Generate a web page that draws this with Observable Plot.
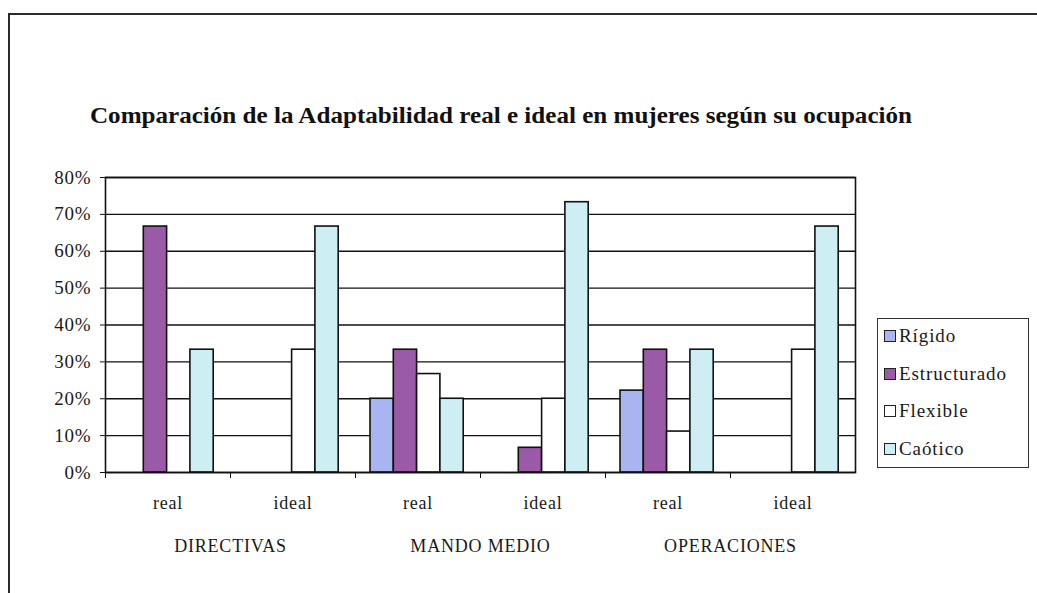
<!DOCTYPE html>
<html>
<head>
<meta charset="utf-8">
<script src="https://cdn.jsdelivr.net/npm/d3@7"></script>
<script src="https://cdn.jsdelivr.net/npm/@observablehq/plot@0.6"></script>
<style>
  html, body { margin: 0; padding: 0; background: #fff; }
  #page { position: relative; width: 1037px; height: 593px; overflow: hidden; font-family: "Liberation Serif", "Times New Roman", "DejaVu Serif", serif; color: #1a1a1a; }
  #frame { position: absolute; left: 8px; top: 13px; width: 1100px; height: 700px; border-top: 2px solid #2a2a2a; border-left: 2px solid #2a2a2a; }
  #title { position: absolute; left: 0; top: 95px; }
  #chart { position: absolute; left: 0; top: 160px; }
  #legend { position: absolute; left: 877px; top: 318px; width: 152px; height: 150px; border: 1.5px solid #333; box-sizing: border-box; background: #fff; }
  .row { position: absolute; left: 6px; height: 22px; display: flex; align-items: center; font-size: 19px; letter-spacing: 0.9px; font-family: "Liberation Serif", "Times New Roman", serif; }
  .sw { width: 12px; height: 12px; border: 1.5px solid #222; margin-right: 3px; box-sizing: border-box; }
</style>
</head>
<body>
<div id="page">
  <div id="frame"></div>
  <div id="title"></div>
  <div id="chart"></div>
  <div id="legend"></div>
</div>
<script>
// ---- data ----
const titulo = "Comparación de la Adaptabilidad real e ideal en mujeres según su ocupación";
const grupos = ["DIRECTIVAS", "MANDO MEDIO", "OPERACIONES"];
const momentos = ["real", "ideal"];
const series = ["Rígido", "Estructurado", "Flexible", "Caótico"];
// values in %, order: DIR real, DIR ideal, MM real, MM ideal, OP real, OP ideal
const rigido       = [0,    0,    20,   0,    22.2, 0];
const estructurado = [66.7, 0,    33.3, 6.7,  33.3, 0];
const flexible     = [0,    33.3, 26.7, 20,   11.1, 33.3];
const caotico      = [33.3, 66.7, 20,   73.3, 33.3, 66.7];
const colores = ["#a9b5f0", "#9a5aa8", "#ffffff", "#cdeef3"];
const yTicks = [0, 10, 20, 30, 40, 50, 60, 70, 80];

// ---- build table ----
const valores = [rigido, estructurado, flexible, caotico];
const claves = [];
grupos.forEach(g => momentos.forEach(m => claves.push(g + "|" + m)));
const datos = [];
series.forEach((s, si) => claves.forEach((k, ki) => datos.push({serie: s, clave: k, valor: valores[si][ki] / 100})));

const FONT = '"Liberation Serif", "Times New Roman", serif';

// ---- title ----
const tsvg = d3.select("#title").append("svg").attr("width", 1037).attr("height", 40);
tsvg.append("text").attr("x", 90).attr("y", 28)
  .attr("textLength", 822).attr("lengthAdjust", "spacingAndGlyphs")
  .attr("font-family", FONT).attr("font-weight", "bold").attr("font-size", 23)
  .attr("fill", "#111").text(titulo);

// ---- chart ----
const W = 1037, mL = 105, mR = 182, mT = 17, plotH = 295, mB = 108;
const band = (W - mL - mR) / claves.length;
const barW = 23.3, off = 15;

const marks = [
  Plot.gridY(yTicks.map(v => v / 100), {stroke: "#111", strokeOpacity: 1, strokeWidth: 1.3}),
  ...series.map((s, i) => Plot.barY(datos, {
    filter: d => d.serie === s && d.valor > 0,
    x: "clave", y: "valor", fill: colores[i], stroke: "#111", strokeWidth: 1.6,
    insetLeft: off + barW * i, insetRight: band - off - barW * (i + 1)
  })),
  Plot.frame({stroke: "#111", strokeWidth: 1.6}),
  Plot.axisY(yTicks.map(v => v / 100), {tickFormat: d3.format(".0%"), tickSize: 5, tickPadding: 9, fontSize: 19, stroke: "#111", fontFamily: FONT}),
  Plot.axisX({tickSize: 6, tickFormat: () => "", dx: -band / 2, stroke: "#111"}),
  Plot.axisX({tickSize: 0, tickPadding: 24, tickFormat: d => d.split("|")[1], fontSize: 18, fontFamily: FONT}),
  Plot.text(grupos, {x: g => g + "|real", text: d => d, frameAnchor: "bottom", dx: band / 2, dy: 79, fontSize: 18, fontFamily: FONT})
];

const chart = Plot.plot({
  width: W, height: mT + plotH + mB,
  marginLeft: mL, marginRight: mR, marginTop: mT, marginBottom: mB,
  style: {fontFamily: FONT, fontSize: "18px", color: "#1a1a1a", background: "transparent", letterSpacing: "0.8px"},
  x: {type: "band", domain: claves, padding: 0, label: null, axis: null},
  y: {domain: [0, 0.8], label: null, axis: null},
  marks
});
document.getElementById("chart").appendChild(chart);

// ---- legend ----
const leg = d3.select("#legend");
series.forEach((s, i) => {
  const r = leg.append("div").attr("class", "row").style("top", (6 + 37.5 * i) + "px");
  r.append("div").attr("class", "sw").style("background", colores[i]);
  r.append("span").text(s);
});
</script>
</body>
</html>
